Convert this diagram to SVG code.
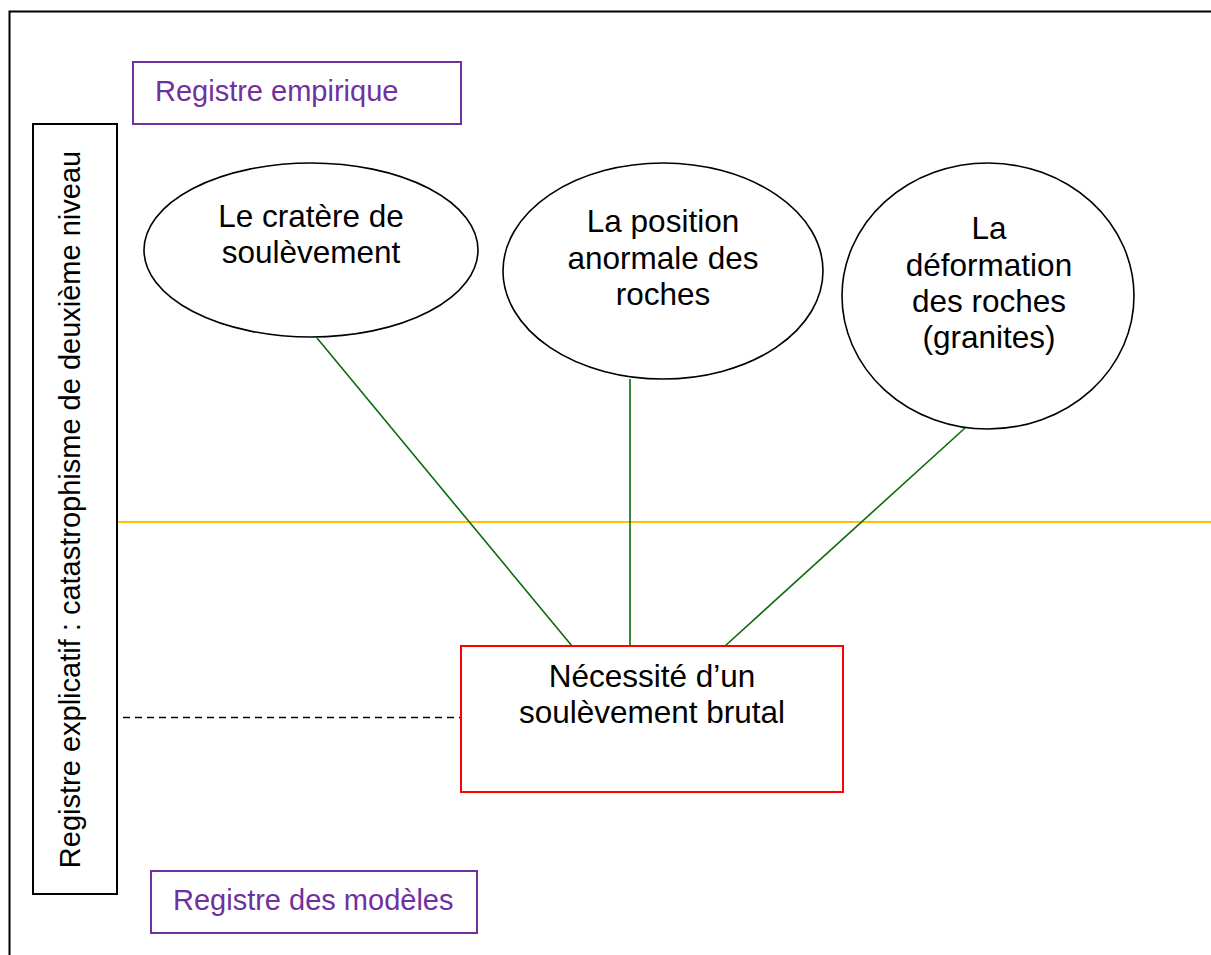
<svg xmlns="http://www.w3.org/2000/svg" width="1211" height="955" viewBox="0 0 1211 955">
<style>
text{font-family:"Liberation Sans",Arial,sans-serif;}
.node{font-size:31.5px;fill:#000;text-anchor:middle;}
.reg{font-size:29px;fill:#7030a0;}
.ell{fill:#fff;stroke:#000;stroke-width:1.6;}
.purple{fill:#fff;stroke:#7030a0;stroke-width:2;}
.green{stroke:#0b6b0b;stroke-width:1.6;fill:none;}
</style>
<rect x="0" y="0" width="1211" height="955" fill="#fff"/>
<path d="M9.5 955 V11.5 H1211" fill="none" stroke="#000" stroke-width="2"/>
<line x1="117" y1="522" x2="1211" y2="522" stroke="#ffc000" stroke-width="1.8"/>
<g id="connectors">
<line class="green" x1="317" y1="338" x2="572" y2="646"/>
<line class="green" x1="630" y1="379" x2="630" y2="646"/>
<line class="green" x1="965" y1="428" x2="725" y2="646"/>
<line x1="123" y1="717.5" x2="460" y2="717.5" stroke="#000" stroke-width="1.5" stroke-dasharray="7 5"/>
</g>
<g id="registre-empirique">
<rect class="purple" x="133" y="62" width="328" height="62"/>
<text class="reg" x="155" y="101">Registre empirique</text>
</g>
<g id="registre-modeles">
<rect class="purple" x="151" y="871" width="326" height="62"/>
<text class="reg" x="173" y="910">Registre des modèles</text>
</g>
<g id="registre-explicatif">
<rect x="33" y="124" width="84" height="770" fill="#fff" stroke="#000" stroke-width="2"/>
<text transform="translate(80,509.5) rotate(-90)" font-size="29" text-anchor="middle" fill="#000">Registre explicatif : catastrophisme de deuxième niveau</text>
</g>
<g id="cratere">
<ellipse class="ell" cx="311" cy="250" rx="167" ry="87"/>
<text class="node" x="311" y="227">Le cratère de</text>
<text class="node" x="311" y="263">soulèvement</text>
</g>
<g id="position">
<ellipse class="ell" cx="663" cy="271" rx="160" ry="108"/>
<text class="node" x="663" y="232">La position</text>
<text class="node" x="663" y="269">anormale des</text>
<text class="node" x="663" y="305">roches</text>
</g>
<g id="deformation">
<ellipse class="ell" cx="988" cy="296" rx="146" ry="133"/>
<text class="node" x="989" y="239">La</text>
<text class="node" x="989" y="276">déformation</text>
<text class="node" x="989" y="312">des roches</text>
<text class="node" x="989" y="348">(granites)</text>
</g>
<g id="necessite">
<rect x="461" y="646" width="382" height="146" fill="#fff" stroke="#ff0000" stroke-width="2"/>
<text class="node" x="652" y="687">Nécessité d’un</text>
<text class="node" x="652" y="723">soulèvement brutal</text>
</g>
</svg>
